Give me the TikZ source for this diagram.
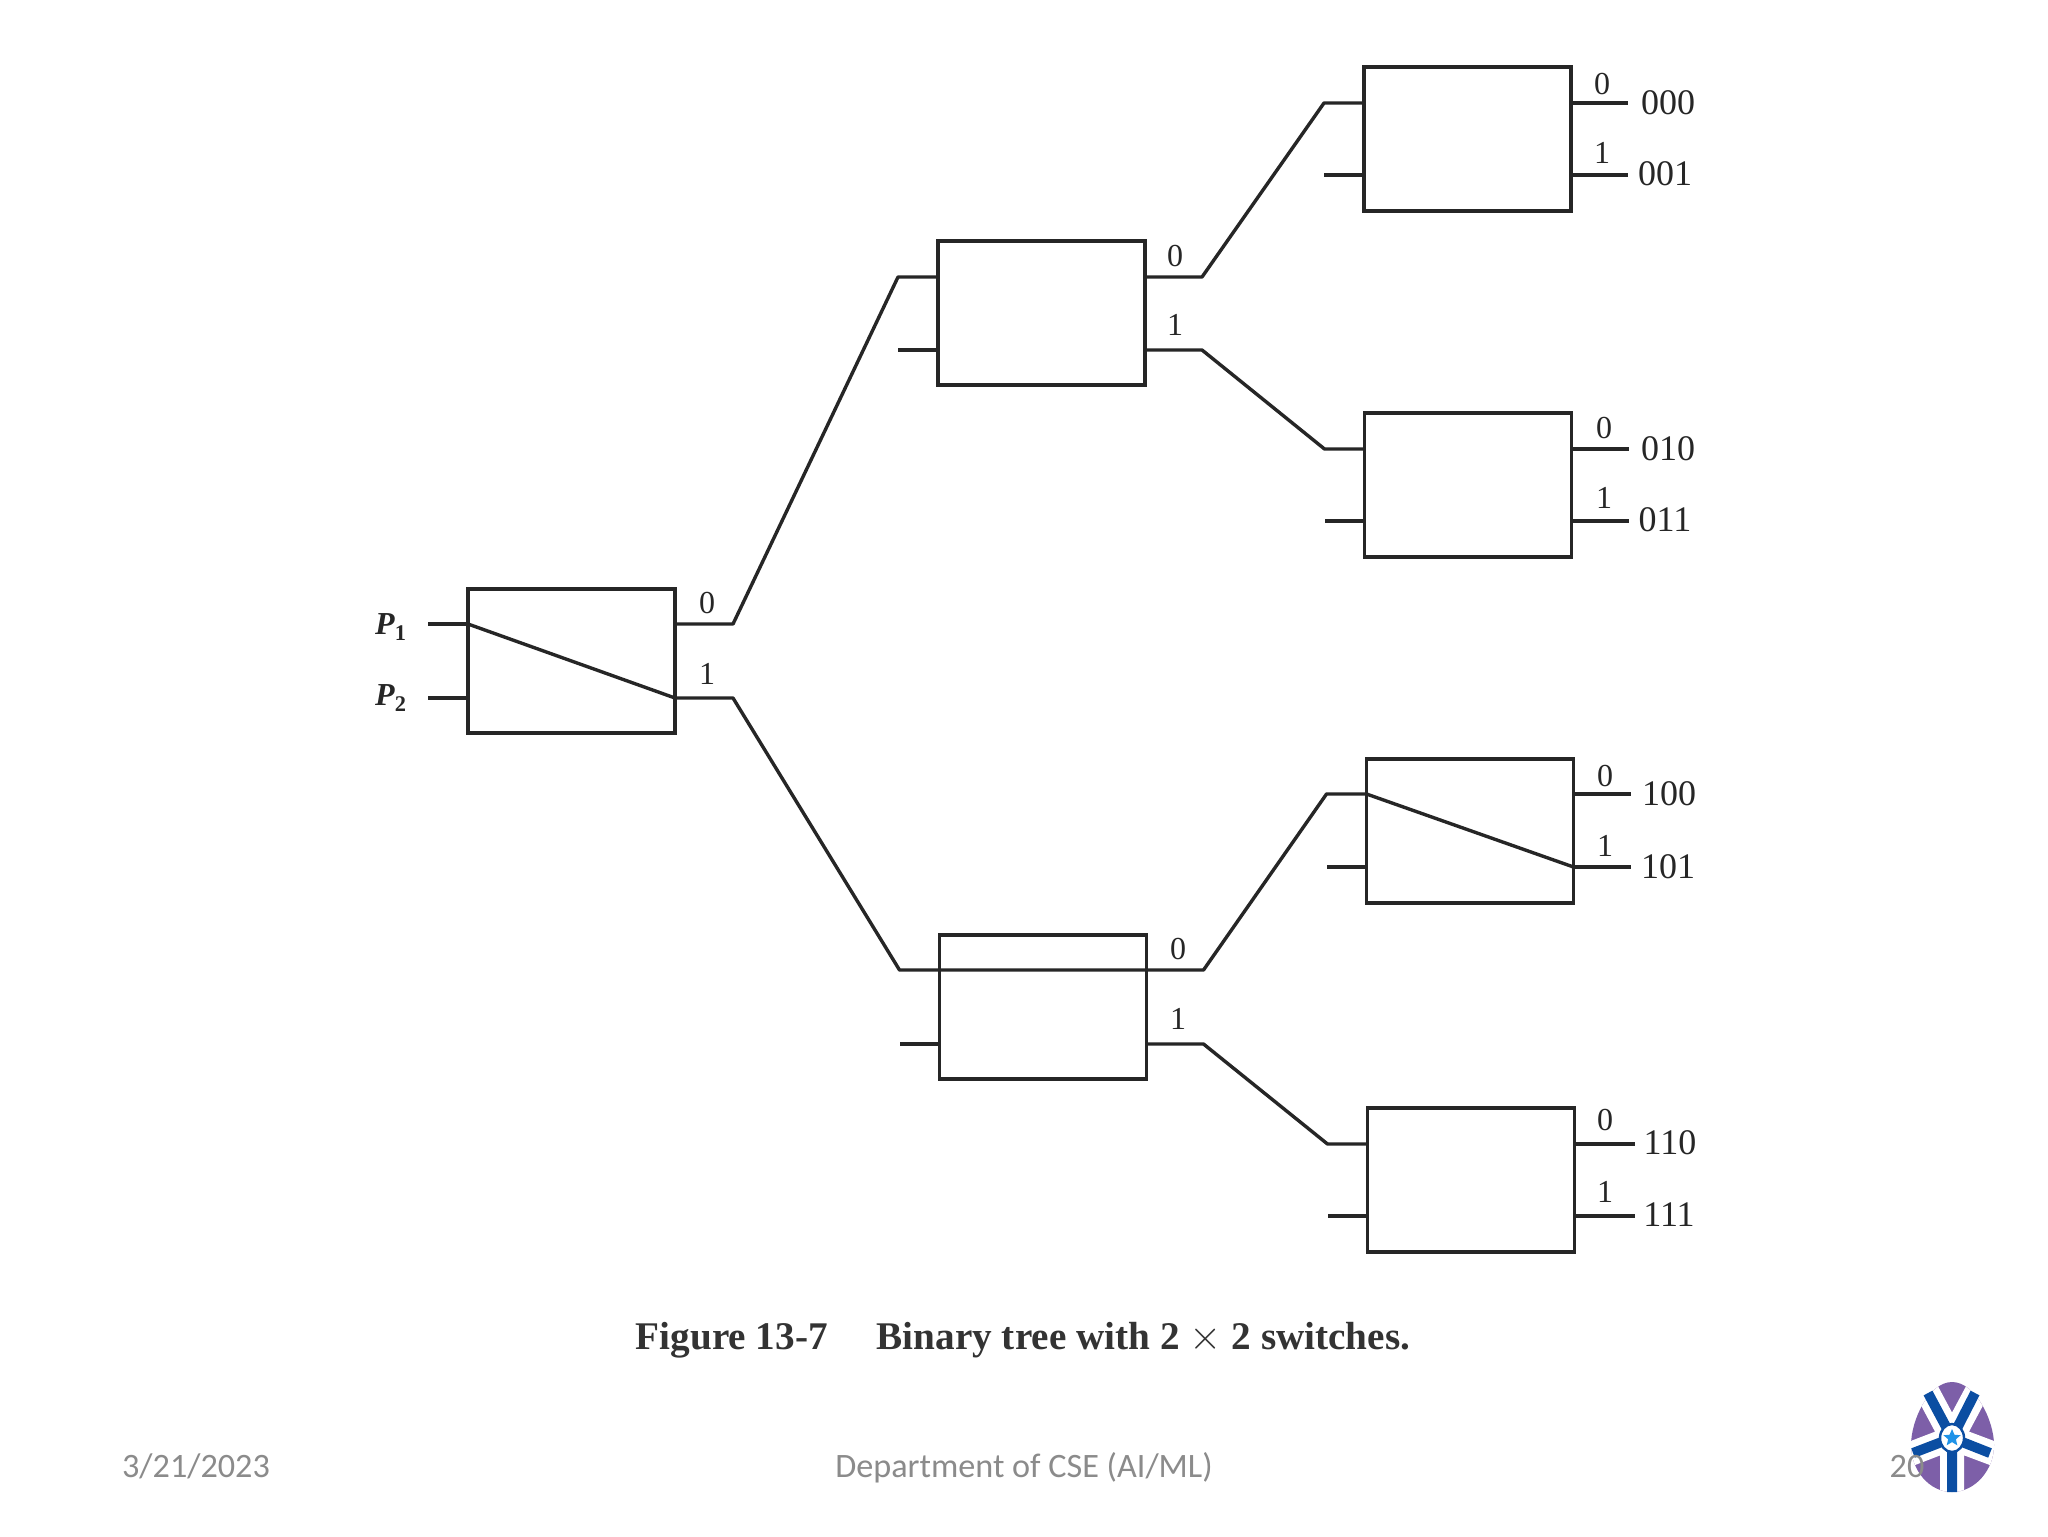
\documentclass[tikz,border=0pt]{standalone}
\usepackage{fontspec}
\usepackage{xcolor}
\setmainfont{Liberation Serif}
\newfontfamily\slidefont{Carlito}
\usetikzlibrary{shapes.geometric}
\definecolor{slidegray}{HTML}{8B8B8B}
\definecolor{logopurple}{HTML}{7D5FA8}
\definecolor{logoblue}{HTML}{0B4EA2}
\definecolor{logostar}{HTML}{1F93E8}

\begin{document}
\begin{tikzpicture}[x=0.5pt, y=-0.5pt,
  sw/.style={draw=black!85, line width=1.7pt, minimum width=103.5pt, minimum height=72pt,
             inner sep=0pt, outer sep=0pt},
  wire/.style={draw=black!85, line width=1.7pt, line join=round},
  port/.style={font=\fontsize{16}{16}\selectfont, text=black!85, inner sep=0pt},
  addr/.style={font=\fontsize{18}{18}\selectfont, text=black!85, inner sep=0pt},
  foot/.style={font=\slidefont\fontsize{17.1}{17.1}\selectfont, text=slidegray, inner sep=0pt, anchor=base}
]
\fill[white] (0,0) rectangle (2048,1536);
\useasboundingbox (0,0) rectangle (2048,1536);

% switches
\node[sw] (swa) at (571.5,661) {};
\node[sw] (swb) at (1041.5,313) {};
\node[sw] (swc) at (1043,1007) {};
\node[sw] (swd) at (1467.5,139) {};
\node[sw] (swe) at (1468,485) {};
\node[sw] (swf) at (1470,831) {};
\node[sw] (swg) at (1471,1180) {};

% first stage
\draw[wire] ([yshift=18.5pt]swa.west) -- ++(-40,0);
\draw[wire] ([yshift=-18.5pt]swa.west) -- ++(-40,0);
\draw[wire] ([yshift=18.5pt]swa.west) -- ([yshift=-18.5pt]swa.east);
\draw[wire] ([yshift=18.5pt]swa.east) -- ++(58,0) -- ([xshift=-20pt,yshift=18pt]swb.west) -- ([yshift=18pt]swb.west);
\draw[wire] ([yshift=-18.5pt]swa.east) -- ++(58,0) -- ([xshift=-20pt,yshift=18.5pt]swc.west) -- ([yshift=18.5pt]swc.east);
\draw[wire] ([yshift=-18.5pt]swb.west) -- ++(-40,0);
\draw[wire] ([yshift=-18.5pt]swc.west) -- ++(-40,0);

% second stage
\draw[wire] ([yshift=18pt]swb.east) -- ++(57,0) -- ([xshift=-20pt,yshift=18pt]swd.west) -- ([yshift=18pt]swd.west);
\draw[wire] ([yshift=-18.5pt]swb.east) -- ++(57,0) -- ([xshift=-20pt,yshift=18pt]swe.west) -- ([yshift=18pt]swe.west);
\draw[wire] ([yshift=18.5pt]swc.east) -- ++(57,0) -- ([xshift=-20pt,yshift=18.5pt]swf.west) -- ([yshift=18.5pt]swf.west);
\draw[wire] ([yshift=-18.5pt]swc.east) -- ++(57,0) -- ([xshift=-20pt,yshift=18pt]swg.west) -- ([yshift=18pt]swg.west);
\draw[wire] ([yshift=-18pt]swd.west) -- ++(-40,0);
\draw[wire] ([yshift=-18pt]swe.west) -- ++(-40,0);
\draw[wire] ([yshift=-18pt]swf.west) -- ++(-40,0);
\draw[wire] ([yshift=-18pt]swg.west) -- ++(-40,0);
\draw[wire] ([yshift=18.5pt]swf.west) -- ([yshift=-18pt]swf.east);

% outputs
\draw[wire] ([yshift=18pt]swd.east) -- ++(57,0);
\draw[wire] ([yshift=-18pt]swd.east) -- ++(57,0);
\draw[wire] ([yshift=18pt]swe.east) -- ++(57,0);
\draw[wire] ([yshift=-18pt]swe.east) -- ++(57,0);
\draw[wire] ([yshift=18.5pt]swf.east) -- ++(57,0);
\draw[wire] ([yshift=-18pt]swf.east) -- ++(57,0);
\draw[wire] ([yshift=18pt]swg.east) -- ++(60,0);
\draw[wire] ([yshift=-18pt]swg.east) -- ++(60,0);

% labels
\node[port] (pa) at (391,627) {\bfseries\textit{P}\textsubscript{1}};
\node[port] (pb) at (391,698) {\bfseries\textit{P}\textsubscript{2}};
\node[port] (a0) at (707,603) {0};
\node[port] (a1) at (707,674) {1};
\node[port] (b0) at (1175,256) {0};
\node[port] (b1) at (1175,325) {1};
\node[port] (c0) at (1178,949) {0};
\node[port] (c1) at (1178,1019) {1};
\node[port] (d0) at (1602,84) {0};
\node[port] (d1) at (1602,153) {1};
\node[port] (e0) at (1604,428) {0};
\node[port] (e1) at (1604,498) {1};
\node[port] (f0) at (1605,776) {0};
\node[port] (f1) at (1605,846) {1};
\node[port] (g0) at (1605,1120) {0};
\node[port] (g1) at (1605,1192) {1};
\node[addr] (o000) at (1668,103) {000};
\node[addr] (o001) at (1665,174) {001};
\node[addr] (o010) at (1668,449) {010};
\node[addr] (o011) at (1665,520) {011};
\node[addr] (o100) at (1669,794) {100};
\node[addr] (o101) at (1668,867) {101};
\node[addr] (o110) at (1670,1143) {110};
\node[addr] (o111) at (1669,1215) {111};
\node[font=\bfseries\fontsize{19.6}{19.6}\selectfont, text=black!80, inner sep=0pt] (cap) at (1023,1340)
  {Figure 13-7\hspace{1em} Binary tree with 2 $\times$ 2 switches.};

% slide footer
\node[foot] (date) at (196,1477) {3/21/2023};
\node[foot] (dept) at (1024,1477) {Department of CSE (AI/ML)};

% logo
\begin{scope}
  \clip (1952,1382) .. controls (1975,1382) and (1994,1420) .. (1994,1445)
    .. controls (1994,1470) and (1975,1492) .. (1952,1492)
    .. controls (1929,1492) and (1911,1470) .. (1911,1445)
    .. controls (1911,1420) and (1929,1382) .. (1952,1382) -- cycle;
  \fill[logopurple] (1900,1375) rectangle (2000,1500);
  \draw[white, line width=12pt] (1952,1438) -- (1920,1378) (1952,1438) -- (1984,1378)
    (1952,1438) -- (1905,1456) (1952,1438) -- (2000,1456) (1952,1438) -- (1952,1500);
\end{scope}
\draw[logoblue, line width=5pt] (1952,1438) -- (1928,1393) (1952,1438) -- (1975,1393)
  (1952,1438) -- (1913,1453) (1952,1438) -- (1990,1453) (1952,1438) -- (1952,1492);
\fill[white, draw=logoblue, line width=1.2pt] (1952,1438) ellipse (12 and 14);
\node[star, star points=5, star point ratio=2.2, fill=logostar, inner sep=0pt, minimum size=9pt] (logostarnode) at (1952,1438) {};
\node[foot] (page) at (1907,1477) {20};
\end{tikzpicture}
\end{document}
